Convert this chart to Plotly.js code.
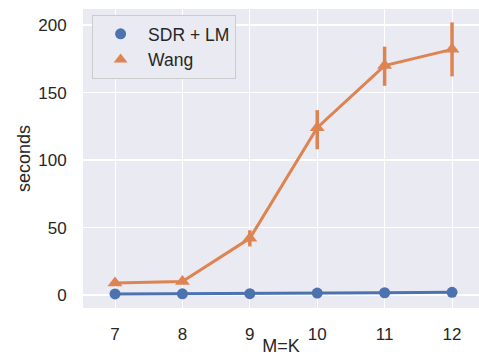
<!DOCTYPE html>
<html><head><meta charset="utf-8">
<script src="https://cdn.plot.ly/plotly-3.0.1.min.js"></script>
<style>body{margin:0;background:#fff}#c{width:479px;height:356px}</style>
</head><body><div id="c"></div>
<script>
const categories = ["7", "8", "9", "10", "11", "12"];
const sdrValues = [0.8, 0.9, 1.0, 1.5, 1.7, 2.0];
const wangValues = [9, 10, 42, 124, 170, 182];
const wangErrPlus = [0, 0, 6, 13, 14, 20];
const wangErrMinus = [0, 0, 6, 16, 15, 20];
const yTicks = [0, 50, 100, 150, 200];

const blue = "#4c72b0", orange = "#dd8452";
const traces = [
  {x: categories, y: sdrValues, type: "scatter", mode: "lines+markers", showlegend: false,
   line: {color: blue, width: 3}, marker: {color: blue, size: 11, symbol: "circle"}},
  {x: categories, y: wangValues, type: "scatter", mode: "lines+markers", showlegend: false,
   line: {color: orange, width: 3}, marker: {color: orange, size: 13, symbol: "triangle-up"},
   error_y: {type: "data", array: wangErrPlus, arrayminus: wangErrMinus, color: orange, thickness: 3.5, width: 0}},
  {x: [null], y: [null], type: "scatter", mode: "markers", name: "SDR + LM",
   marker: {color: blue, size: 11, symbol: "circle"}},
  {x: [null], y: [null], type: "scatter", mode: "markers", name: "Wang",
   marker: {color: orange, size: 12, symbol: "triangle-up"}}
];
const layout = {
  width: 479, height: 356,
  margin: {l: 83, r: 0, t: 9, b: 48},
  paper_bgcolor: "#fff", plot_bgcolor: "#eaeaf2",
  font: {family: "Liberation Sans, Arial, sans-serif", size: 17, color: "#262626"},
  xaxis: {type: "category", range: [-0.475, 5.4], showgrid: true, gridcolor: "#fff", gridwidth: 1,
    zeroline: false, showline: false, ticks: "outside", ticklen: 11, tickcolor: "rgba(0,0,0,0)",
    tickfont: {size: 17}, title: {text: "M=K", font: {size: 18}, standoff: 4}},
  yaxis: {range: [-9.6, 211.9], tickvals: yTicks, showgrid: true, gridcolor: "#fff", gridwidth: 1.3,
    zeroline: false, showline: false, ticks: "outside", ticklen: 12, tickcolor: "rgba(0,0,0,0)",
    tickfont: {size: 17}, title: {text: "seconds", font: {size: 18}, standoff: 2}},
  showlegend: true,
  legend: {x: 0.023, y: 0.98, xanchor: "left", yanchor: "top", bgcolor: "#eaeaf2",
    bordercolor: "#cccccc", borderwidth: 1, font: {size: 17.5}, itemwidth: 45}
};
Plotly.newPlot("c", traces, layout, {displayModeBar: false, staticPlot: true});
</script></body></html>
